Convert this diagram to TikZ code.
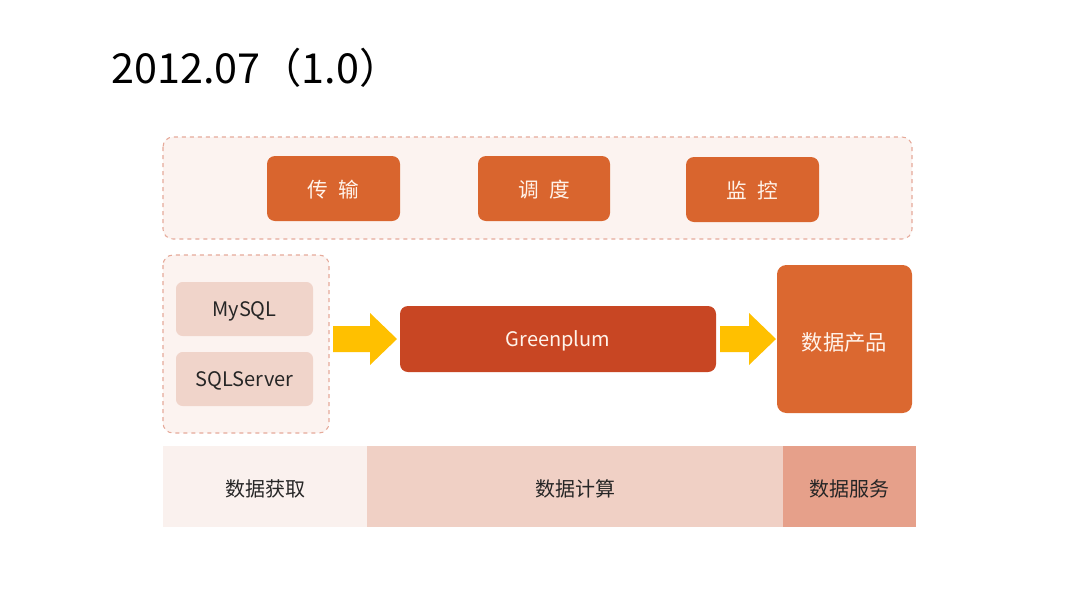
\documentclass[tikz,border=0pt]{standalone}
\usepackage{fontspec}
\setmainfont{Noto Sans CJK SC}
\definecolor{dashln}{HTML}{E6AA9A}
\definecolor{lightbg}{HTML}{FCF3F0}
\definecolor{topbox}{HTML}{D9652E}
\definecolor{gpbox}{HTML}{C84623}
\definecolor{prodbox}{HTML}{DB6830}
\definecolor{srcbox}{HTML}{F0D4CA}
\definecolor{arrowy}{HTML}{FFC000}
\definecolor{band1}{HTML}{FAF1EE}
\definecolor{band2}{HTML}{F0D0C5}
\definecolor{band3}{HTML}{E6A08A}
\definecolor{txtlight}{HTML}{FFF3EA}
\definecolor{txtdark}{HTML}{262626}
\begin{document}
\begin{tikzpicture}[x=0.75pt,y=-0.75pt,
  dashbox/.style={draw=dashln,fill=lightbg,dashed,rounded corners=7.5pt,line width=0.8pt},
  tbox/.style={fill=topbox,rounded corners=6pt},
  sbox/.style={fill=srcbox,rounded corners=5pt},
  ltxt/.style={text=txtlight,font=\fontsize{15.5}{18}\selectfont},
  dtxt/.style={text=txtdark,font=\fontsize{15}{18}\selectfont},
  bigarrow/.style={fill=arrowy}]
\useasboundingbox (0,0) rectangle (1080,607);
\fill[white] (0,0) rectangle (1080,607);
% title
\node[anchor=base west,inner sep=0pt,font=\fontsize{31}{36}\selectfont,text=black] (title) at (111,83) {2012.07（1.0）};
% top dashed container
\draw[dashbox] (163,137) rectangle (912,239);
\fill[tbox] (267,156) rectangle (400,221);
\node[ltxt] (t1) at (333.5,190) {传\hspace{0.5em}输};
\fill[tbox] (478,156) rectangle (610,221);
\node[ltxt] (t2) at (544,190) {调\hspace{0.5em}度};
\fill[tbox] (686,157) rectangle (819,222);
\node[ltxt] (t3) at (752.5,191) {监\hspace{0.5em}控};
% left dashed container
\draw[dashbox] (163,255) rectangle (329,433);
\fill[sbox] (176,282) rectangle (313,336);
\node[dtxt] (mysql) at (244.5,311) {MySQL};
\fill[sbox] (176,352) rectangle (313,406);
\node[dtxt] (sqls) at (244.5,381) {SQLServer};
% greenplum
\fill[gpbox,rounded corners=6pt] (400,306) rectangle (716,372);
\node[ltxt,font=\fontsize{15}{18}\selectfont] (gp) at (558,341) {Greenplum};
% product
\fill[prodbox,rounded corners=7pt] (777,265) rectangle (912,413);
\node[ltxt,font=\fontsize{16}{19}\selectfont] (prod) at (844.5,342) {数据产品};
% arrows
\fill[bigarrow] (333,326) -- (370,326) -- (370,313) -- (397,339) -- (370,365) -- (370,352) -- (333,352) -- cycle;
\fill[bigarrow] (720,326) -- (749,326) -- (749,313) -- (776,339) -- (749,365) -- (749,352) -- (720,352) -- cycle;
% bottom band
\fill[band1] (163,446) rectangle (367,527);
\fill[band2] (367,446) rectangle (783,527);
\fill[band3] (783,446) rectangle (916,527);
\node[dtxt] (b1) at (265,489) {数据获取};
\node[dtxt] (b2) at (575,489) {数据计算};
\node[dtxt] (b3) at (849.5,489) {数据服务};
\end{tikzpicture}
\end{document}
